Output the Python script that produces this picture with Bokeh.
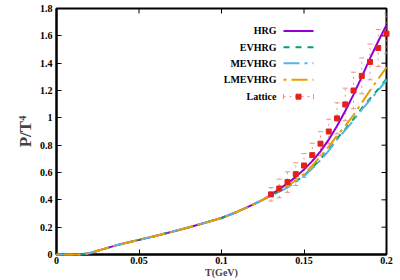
from bokeh.plotting import figure
from bokeh.models import ColumnDataSource, Whisker, TeeHead, Range1d, FixedTicker
from bokeh.core.properties import value
from bokeh.embed import file_html
from bokeh.resources import INLINE

# ---------------- data ----------------
T_low = [0.0, 0.01, 0.015, 0.02, 0.025, 0.03, 0.035, 0.04, 0.05, 0.06, 0.07,
         0.08, 0.09, 0.10, 0.11, 0.12, 0.125]
P_low = [0.0, 0.0, 0.001, 0.009, 0.027, 0.045, 0.063, 0.079, 0.107, 0.136, 0.166,
         0.198, 0.232, 0.267, 0.315, 0.37, 0.40]

T_high = [0.13, 0.135, 0.14, 0.145, 0.15, 0.155, 0.16, 0.165, 0.17, 0.175,
          0.18, 0.185, 0.19, 0.195, 0.2]
hrg_high = [0.437, 0.478, 0.52, 0.568, 0.622, 0.683, 0.755, 0.84, 0.94, 1.05,
            1.17, 1.30, 1.435, 1.56, 1.68]
ev_high = [0.431, 0.462, 0.493, 0.534, 0.578, 0.636, 0.697, 0.768, 0.848, 0.918,
           0.99, 1.07, 1.14, 1.21, 1.285]
mev_high = [0.430, 0.46, 0.49, 0.53, 0.573, 0.63, 0.69, 0.76, 0.84, 0.91,
            0.98, 1.06, 1.13, 1.20, 1.275]
lmev_high = [0.433, 0.465, 0.50, 0.543, 0.59, 0.65, 0.72, 0.79, 0.87, 0.94,
             1.02, 1.11, 1.20, 1.285, 1.37]

T_lat = [0.13, 0.135, 0.14, 0.145, 0.15, 0.155, 0.16, 0.165, 0.17, 0.175,
         0.18, 0.185, 0.19, 0.195, 0.2]
P_lat = [0.44, 0.483, 0.53, 0.588, 0.651, 0.727, 0.811, 0.90, 0.996, 1.098,
         1.20, 1.307, 1.409, 1.511, 1.616]
E_lat = [0.049, 0.068, 0.075, 0.083, 0.087, 0.087, 0.088, 0.09, 0.114, 0.119,
         0.134, 0.131, 0.131, 0.136, 0.146]

x_ticks = [0, 0.05, 0.1, 0.15, 0.2]
x_tick_labels = ["0", "0.05", "0.1", "0.15", "0.2"]
y_ticks = [0, 0.2, 0.4, 0.6, 0.8, 1.0, 1.2, 1.4, 1.6, 1.8]
y_tick_labels = ["0", "0.2", "0.4", "0.6", "0.8", "1", "1.2", "1.4", "1.6", "1.8"]

series_names = ["HRG", "EVHRG", "MEVHRG", "LMEVHRG"]
series_high = [hrg_high, ev_high, mev_high, lmev_high]
series_colors = ["#9400d3", "#009e73", "#56b4e9", "#e69f00"]
series_dash = ["solid", "6 6", "16 5 3 5", "3 5 16 5"]
lat_name = "Lattice"
lat_color = "#e3211c"
err_color = "#f28c8c"

FONT = "Liberation Serif"
XMIN, XMAX, YMIN, YMAX = 0.0, 0.2, 0.0, 1.8

# frame placement in page pixels
FRAME_L, FRAME_R, FRAME_T, FRAME_B = 56, 386, 8, 255
W, H = 400, 280
TICK_PX = 5

# ---------------- figure ----------------
p = figure(width=W, height=H, x_range=Range1d(XMIN, XMAX), y_range=Range1d(YMIN, YMAX),
           output_backend="svg", toolbar_location=None,
           min_border_left=FRAME_L, min_border_right=W - FRAME_R,
           min_border_top=FRAME_T, min_border_bottom=H - FRAME_B)
p.grid.visible = False
p.outline_line_color = "black"
p.outline_line_width = 2
p.background_fill_color = "white"
p.border_fill_color = "white"

def style_axis(ax, ticks, labels):
    ax.ticker = FixedTicker(ticks=ticks)
    ax.major_tick_in = TICK_PX
    ax.major_tick_out = 0
    ax.minor_tick_line_color = None
    ax.axis_line_width = 2
    ax.axis_line_color = "black"
    ax.major_tick_line_color = "black"
    ax.major_tick_line_width = 1
    ax.major_label_overrides = {t: l for t, l in zip(ticks, labels)}
    ax.major_label_text_font = FONT
    ax.major_label_text_font_style = "bold"
    ax.major_label_text_font_size = "10px"
    ax.major_label_text_color = "black"

style_axis(p.xaxis[0], x_ticks, x_tick_labels)
style_axis(p.yaxis[0], y_ticks, y_tick_labels)
p.xaxis[0].major_label_standoff = 2
p.yaxis[0].major_label_standoff = 4
p.xaxis[0].axis_label = "T(GeV)"
p.xaxis[0].axis_label_text_font = FONT
p.xaxis[0].axis_label_text_font_style = "bold"
p.xaxis[0].axis_label_text_font_size = "10px"
p.xaxis[0].axis_label_standoff = 0
p.yaxis[0].axis_label = "P/T\u2074"
p.yaxis[0].axis_label_text_font = FONT
p.yaxis[0].axis_label_text_font_style = "bold"
p.yaxis[0].axis_label_text_font_size = "17px"
p.yaxis[0].axis_label_standoff = 2

# mirrored inward ticks on top and right edges
dx_tick = TICK_PX / (FRAME_R - FRAME_L) * (XMAX - XMIN)
dy_tick = TICK_PX / (FRAME_B - FRAME_T) * (YMAX - YMIN)
p.segment(x0=x_ticks, x1=x_ticks, y0=[YMAX] * len(x_ticks), y1=[YMAX - dy_tick] * len(x_ticks),
          line_color="black", line_width=1)
p.segment(x0=[XMAX] * len(y_ticks), x1=[XMAX - dx_tick] * len(y_ticks), y0=y_ticks, y1=y_ticks,
          line_color="black", line_width=1)

# ---------------- curves ----------------
for name, high, col, dash in zip(series_names, series_high, series_colors, series_dash):
    p.line(T_low + T_high, P_low + high, line_color=col, line_width=2, line_dash=dash,
           level="overlay")

# lattice with error bars
lat_src = ColumnDataSource(data=dict(
    T=T_lat, P=P_lat,
    lo=[v - e for v, e in zip(P_lat, E_lat)],
    hi=[v + e for v, e in zip(P_lat, E_lat)]))
wh = Whisker(source=lat_src, base="T", lower="lo", upper="hi",
             line_color=err_color, line_width=1, line_dash="dotted",
             lower_head=TeeHead(size=5, line_color=err_color, line_width=1),
             upper_head=TeeHead(size=5, line_color=err_color, line_width=1))
p.add_layout(wh)
p.scatter("T", "P", source=lat_src, marker="square", size=5,
          fill_color=lat_color, line_color=lat_color, level="overlay")

# ---------------- legend (gnuplot style: label, then sample) ----------------
def px2x(px):
    return XMIN + (px - FRAME_L) / (FRAME_R - FRAME_L) * (XMAX - XMIN)
def py2y(py):
    return YMIN + (FRAME_B - py) / (FRAME_B - FRAME_T) * (YMAX - YMIN)

leg_rows_py = [30.5, 46.8, 63.0, 79.5, 96.5]
leg_text_px = 276
leg_line_px = (283, 313)

p.text(x=[px2x(leg_text_px)] * 5, y=[py2y(v) for v in leg_rows_py],
       text=series_names + [lat_name], text_font=value(FONT), text_font_style="bold",
       text_font_size="10px", text_align="right", text_baseline="middle", text_color="black")
for row, col, dash in zip(leg_rows_py[:4], series_colors, series_dash):
    p.line([px2x(leg_line_px[0]), px2x(leg_line_px[1])], [py2y(row)] * 2,
           line_color=col, line_width=2, line_dash=dash)
lr = leg_rows_py[4]
p.line([px2x(leg_line_px[0]), px2x(leg_line_px[1])], [py2y(lr)] * 2,
       line_color=err_color, line_width=1, line_dash="dotted")
p.segment(x0=[px2x(leg_line_px[0]), px2x(leg_line_px[1])], y0=[py2y(lr - 2.5)] * 2,
          x1=[px2x(leg_line_px[0]), px2x(leg_line_px[1])], y1=[py2y(lr + 2.5)] * 2,
          line_color=err_color, line_width=1)
p.scatter([px2x((leg_line_px[0] + leg_line_px[1]) / 2)], [py2y(lr)], marker="square", size=5,
          fill_color=lat_color, line_color=lat_color)

open("out.html", "w").write(file_html(p, INLINE))
